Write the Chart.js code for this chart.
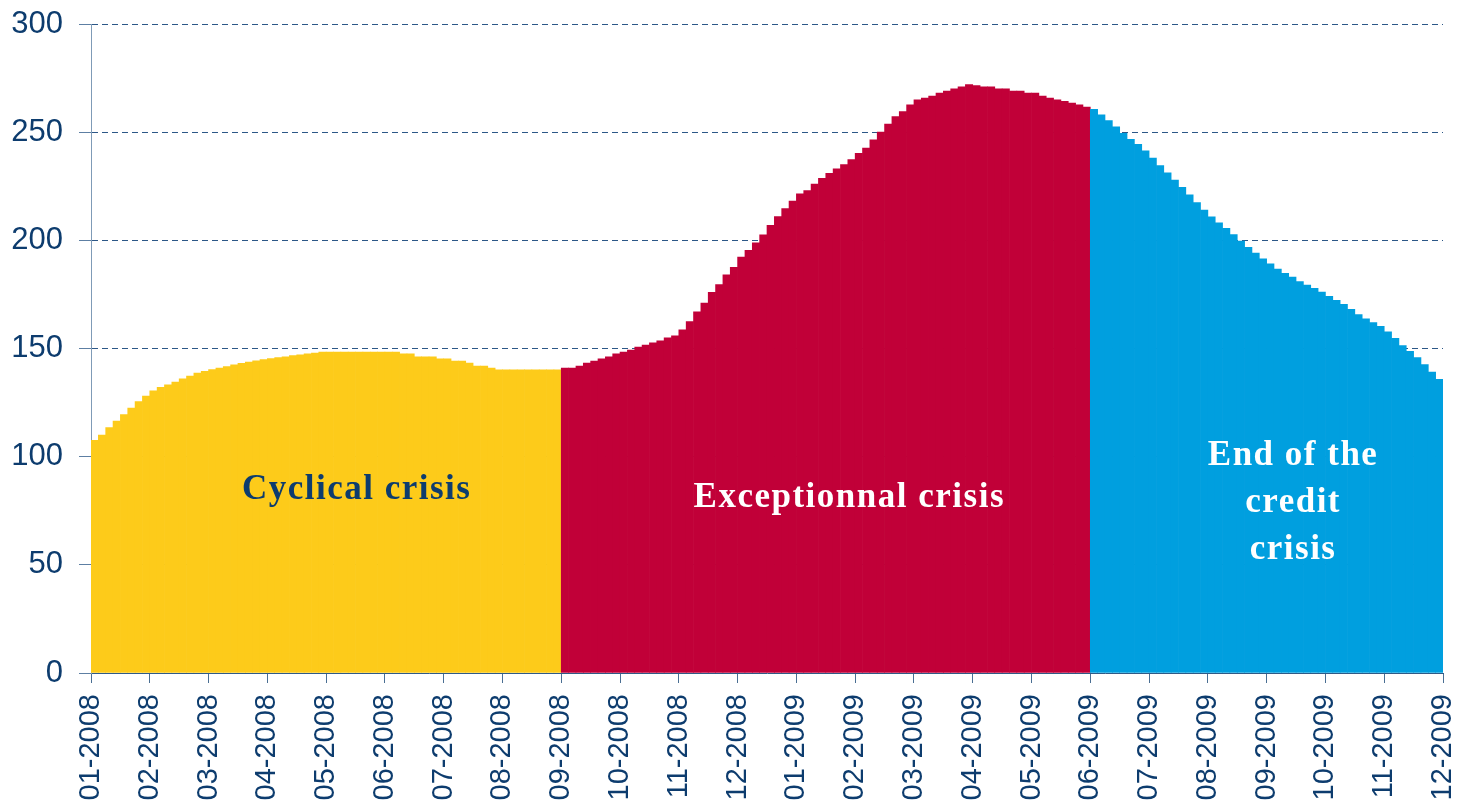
<!DOCTYPE html>
<html>
<head>
<meta charset="utf-8">
<script src="https://cdn.jsdelivr.net/npm/chart.js@4.4.1/dist/chart.umd.min.js"></script>
<style>
  html, body { margin: 0; padding: 0; background: #fff; }
  #caja { width: 1457px; height: 803px; position: relative; }
</style>
</head>
<body>
<div id="caja"><canvas id="grafico"></canvas></div>
<script>
// month tick labels (one tick at the start of each month)
const meses = ['01-2008','02-2008','03-2008','04-2008','05-2008','06-2008','07-2008','08-2008',
  '09-2008','10-2008','11-2008','12-2008','01-2009','02-2009','03-2009','04-2009','05-2009',
  '06-2009','07-2009','08-2009','09-2009','10-2009','11-2009','12-2009'];
const puntosPorMes = 8;

// values, 8 per month
const cyclical = [
  107.5, 110, 113.5, 116.5, 119.5, 122.5, 125.5, 128,
  130.4, 132, 133.2, 134.5, 136, 137.3, 138.6, 139.4,
  140.3, 141, 141.7, 142.4, 143.1, 143.7, 144.3, 144.9,
  145.3, 145.8, 146.2, 146.7, 147.1, 147.5, 147.9, 148.4,
  148.4, 148.4, 148.4, 148.4, 148.4, 148.4, 148.4, 148.4,
  148.4, 148.4, 147.5, 147.5, 146.1, 146.1, 146.1, 145.2,
  145.2, 144.2, 144.2, 143.3, 141.9, 141.9, 141, 140.1,
  140.1, 140.1, 140.1, 140.1, 140.1, 140.1, 140.1, 140.1
];
const exceptional = [
  141, 141, 141.9, 143.3, 144.2, 145.2, 146.1, 147.5,
  148.4, 149.3, 150.7, 151.6, 152.6, 153.5, 154.9, 155.8,
  158.6, 162.5, 167, 171, 176, 179.5, 184, 187.5,
  192.3, 195.4, 198.8, 202.5, 206.9, 211, 214.7, 218.2,
  221.5, 223, 226, 228.7, 231, 233, 235, 237.3,
  240.2, 242.7, 246.5, 250, 253.7, 257.2, 259.5, 262.6,
  264.9, 265.8, 266.7, 268.1, 269, 270, 270.9, 272,
  271.5, 270.9, 270.9, 270, 270, 269, 269, 268.1,
  268.1, 266.7, 265.8, 264.9, 264.2, 263.5, 262.6, 261.6
];
const endCredit = [
  260.5, 258, 255.4, 252.5, 249.5, 246.7, 244.4, 241.4,
  238, 234.6, 231.2, 227.9, 224.5, 221, 217.4, 214,
  210.9, 208.1, 205.5, 202.7, 199.6, 196.8, 194.1, 191.4,
  189.1, 186.7, 184.7, 183, 180.9, 179.3, 177.8, 176.1,
  174.1, 172.3, 170.4, 168.1, 165.7, 163.7, 162, 160.2,
  157.7, 154.7, 151.4, 148.7, 145.8, 142.6, 139.1, 135.8
];
const yMin = 0, yMax = 300, yPaso = 50;

const azulTexto = '#0d3c6e';
const colores = { cyclical: '#fdcb1a', exceptional: '#c10038', endCredit: '#009fdf' };

// one bar per value, placed on a linear month axis
const valores = cyclical.concat(exceptional, endCredit);
const puntos = valores.map((v, i) => ({ x: (i + 0.5) / puntosPorMes, y: v }));
const fondos = [].concat(
  cyclical.map(() => colores.cyclical),
  exceptional.map(() => colores.exceptional),
  endCredit.map(() => colores.endCredit)
);

const textos = {
  id: 'textos',
  afterDatasetsDraw(chart) {
    const { ctx, scales: { x, y } } = chart;
    ctx.save();
    ctx.font = 'bold 35px "Liberation Serif"';
    ctx.letterSpacing = '1.5px';
    ctx.textAlign = 'center';
    ctx.textBaseline = 'middle';
    ctx.fillStyle = azulTexto;
    ctx.fillText('Cyclical crisis', x.getPixelForValue(4.52), y.getPixelForValue(84.5));
    ctx.fillStyle = '#fff';
    ctx.fillText('Exceptionnal crisis', x.getPixelForValue(12.9), y.getPixelForValue(81));
    ctx.fillText('End of the', x.getPixelForValue(20.45), y.getPixelForValue(100.5));
    ctx.fillText('credit', x.getPixelForValue(20.45), y.getPixelForValue(78.8));
    ctx.fillText('crisis', x.getPixelForValue(20.45), y.getPixelForValue(56.8));
    ctx.restore();
  }
};

const config = {
  type: 'bar',
  data: {
    datasets: [{
      data: puntos,
      backgroundColor: fondos,
      borderWidth: 0,
      categoryPercentage: 1,
      barPercentage: 1
    }]
  },
  options: {
    responsive: true,
    maintainAspectRatio: false,
    animation: false,
    layout: { padding: { top: 24, right: 14, left: 0, bottom: 0 } },
    plugins: { legend: { display: false }, tooltip: { enabled: false } },
    scales: {
      x: {
        type: 'linear',
        offset: false,
        min: 0,
        max: meses.length - 1,
        afterFit(scale) {
          scale.height = 130;
          scale.paddingLeft = 0;
          scale.paddingRight = 0;
        },
        afterBuildTicks(scale) { scale.ticks = meses.map((m, i) => ({ value: i })); },
        ticks: {
          autoSkip: false,
          minRotation: 90,
          maxRotation: 90,
          padding: 11,
          color: azulTexto,
          font: { family: '"Liberation Sans"', size: 29 },
          callback: (v) => meses[v]
        },
        grid: { offset: false, drawOnChartArea: false, drawTicks: true, tickLength: 10, tickColor: '#4a6e93', tickWidth: 1 },
        border: { display: true, color: '#2f5a86', width: 1 }
      },
      y: {
        min: yMin,
        max: yMax,
        afterFit(scale) {
          scale.width = 91;
          scale.paddingTop = 0;
          scale.paddingBottom = 0;
        },
        ticks: {
          stepSize: yPaso,
          padding: 16,
          color: azulTexto,
          font: { family: '"Liberation Sans"', size: 31 }
        },
        grid: {
          color: (c) => c.tick && c.tick.value === 0 ? 'rgba(0,0,0,0)' : '#2c5787',
          lineWidth: 1,
          tickLength: 12,
          tickColor: '#5d7fa3',
          tickBorderDash: []
        },
        border: { display: true, color: '#7f9bb7', width: 1, dash: [6, 4] }
      }
    }
  },
  plugins: [textos]
};

new Chart(document.getElementById('grafico'), config);
</script>
</body>
</html>
